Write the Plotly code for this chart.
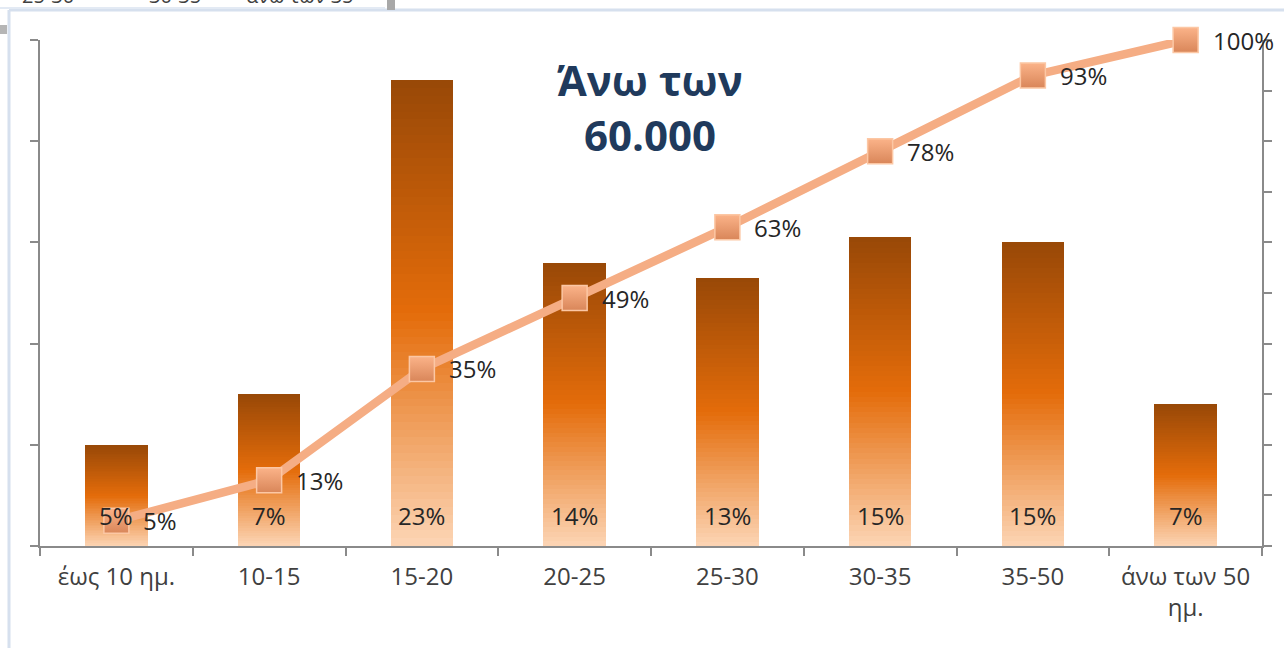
import plotly.graph_objects as go

categories = ["έως 10 ημ.", "10-15", "15-20", "20-25", "25-30", "30-35", "35-50", "άνω των 50<br>ημ."]
counts = [10, 15, 46, 28, 26.5, 30.5, 30, 14]
share_labels = ["5%", "7%", "23%", "14%", "13%", "15%", "15%", "7%"]
cumulative = [0.05, 0.13, 0.35, 0.49, 0.63, 0.78, 0.93, 1.00]
cumulative_labels = ["5%", "13%", "35%", "49%", "63%", "78%", "93%", "100%"]
title_text = "Άνω των<br>60.000"
cut_legend = ["25-30", "30-35", "άνω των 35"]

FONT = "Open Sans, Noto Sans, sans-serif"
AXIS_COL = "#8a8a8a"

# plot-area geometry in pixels (for paper-coordinate decorations)
L, R, T, B = 40, 1262, 40, 546
W, H = R - L, B - T
def px(x): return (x - L) / W
def py(y): return (B - y) / H

stops = [(0.0, (252, 213, 181)), (0.5, (228, 108, 10)), (1.0, (152, 72, 7))]
def grad(f):
    for (f0, c0), (f1, c1) in zip(stops[:-1], stops[1:]):
        if f0 <= f <= f1:
            t = (f - f0) / (f1 - f0)
            c = [round(a + (b - a) * t) for a, b in zip(c0, c1)]
            return "rgb(%d,%d,%d)" % tuple(c)
    return "rgb(152,72,7)"

fig = go.Figure()
K = 60
for i in range(K):
    f = (i + 0.5) / K
    fig.add_trace(go.Bar(
        x=categories, y=[v / K for v in counts],
        marker=dict(color=grad(f), line=dict(width=0)),
        width=0.41, showlegend=False, hoverinfo="skip",
    ))

fig.add_trace(go.Scatter(
    x=categories, y=cumulative, yaxis="y2", mode="lines+markers", cliponaxis=False,
    line=dict(color="#f5ad84", width=8.5),
    marker=dict(symbol="square", size=25, color="#fbb389",
                gradient=dict(type="vertical", color="#d98659"),
                line=dict(color="#fcc7a4", width=1.5)),
    showlegend=False, hoverinfo="skip",
))

annotations = []
for c, lab in zip(categories, share_labels):
    annotations.append(dict(x=c, y=0, xref="x", yref="y", text=lab, showarrow=False,
                            yanchor="bottom", yshift=12,
                            font=dict(family=FONT, size=24, color="#262626")))
for c, v, lab in zip(categories, cumulative, cumulative_labels):
    annotations.append(dict(x=c, y=v, xref="x", yref="y2", text=lab, showarrow=False,
                            xanchor="left", xshift=25, yshift=0,
                            font=dict(family=FONT, size=24, color="#262626")))
annotations.append(dict(x=px(650), y=py(107), xref="paper", yref="paper", text=title_text,
                        showarrow=False, xanchor="center", yanchor="middle",
                        font=dict(family=FONT, size=42, color="#203a5c", weight="bold")))
for xpos, t in zip([48, 175, 300], cut_legend):
    annotations.append(dict(x=px(xpos), y=py(-5), xref="paper", yref="paper", text=t,
                            showarrow=False, xanchor="center", yanchor="middle",
                            font=dict(family=FONT, size=20, color="#404040")))

shapes = [
    dict(type="line", xref="paper", yref="paper", x0=px(9), x1=px(1290), y0=py(10), y1=py(10),
         line=dict(color="#d6e0ee", width=3)),
    dict(type="line", xref="paper", yref="paper", x0=px(9), x1=px(9), y0=py(10), y1=py(660),
         line=dict(color="#d6e0ee", width=3)),
    dict(type="line", xref="paper", yref="paper", x0=px(0), x1=px(385), y0=py(8), y1=py(8),
         line=dict(color="#e3eaf4", width=2)),
    dict(type="rect", xref="paper", yref="paper", x0=px(387), x1=px(395), y0=py(-2), y1=py(10),
         line=dict(width=0), fillcolor="#a8a8a8"),
    dict(type="rect", xref="paper", yref="paper", x0=px(0), x1=px(7), y0=py(25), y1=py(34),
         line=dict(width=0), fillcolor="#b5b5b5"),
]

fig.update_layout(
    width=1284, height=648, autosize=False,
    margin=dict(l=L, r=1284 - R, t=T, b=648 - B),
    paper_bgcolor="white", plot_bgcolor="white",
    barmode="stack", bargap=0,
    showlegend=False,
    font=dict(family=FONT, size=24, color="#404040"),
    xaxis=dict(type="category", range=[-0.5, len(categories) - 0.5],
               showline=True, linecolor=AXIS_COL, linewidth=2,
               ticks="outside", tickson="boundaries", ticklen=8, tickcolor=AXIS_COL, tickwidth=2,
               showgrid=False, automargin=False, ticklabelstandoff=8,
               tickfont=dict(family=FONT, size=24, color="#404040")),
    yaxis=dict(range=[0, 50], dtick=10, showline=True, linecolor=AXIS_COL, linewidth=2,
               ticks="outside", ticklen=8, tickcolor=AXIS_COL, tickwidth=2, automargin=False,
               showticklabels=False, showgrid=False, zeroline=False),
    yaxis2=dict(range=[0, 1], dtick=0.1, overlaying="y", side="right", showline=True,
                linecolor=AXIS_COL, linewidth=2, ticks="outside", ticklen=8, automargin=False,
                tickcolor=AXIS_COL, tickwidth=2, showticklabels=False, showgrid=False,
                zeroline=False),
    annotations=annotations, shapes=shapes,
)

fig.write_html("out.html", config={"displayModeBar": False, "responsive": False},
               post_script="document.body.style.margin='0';")
